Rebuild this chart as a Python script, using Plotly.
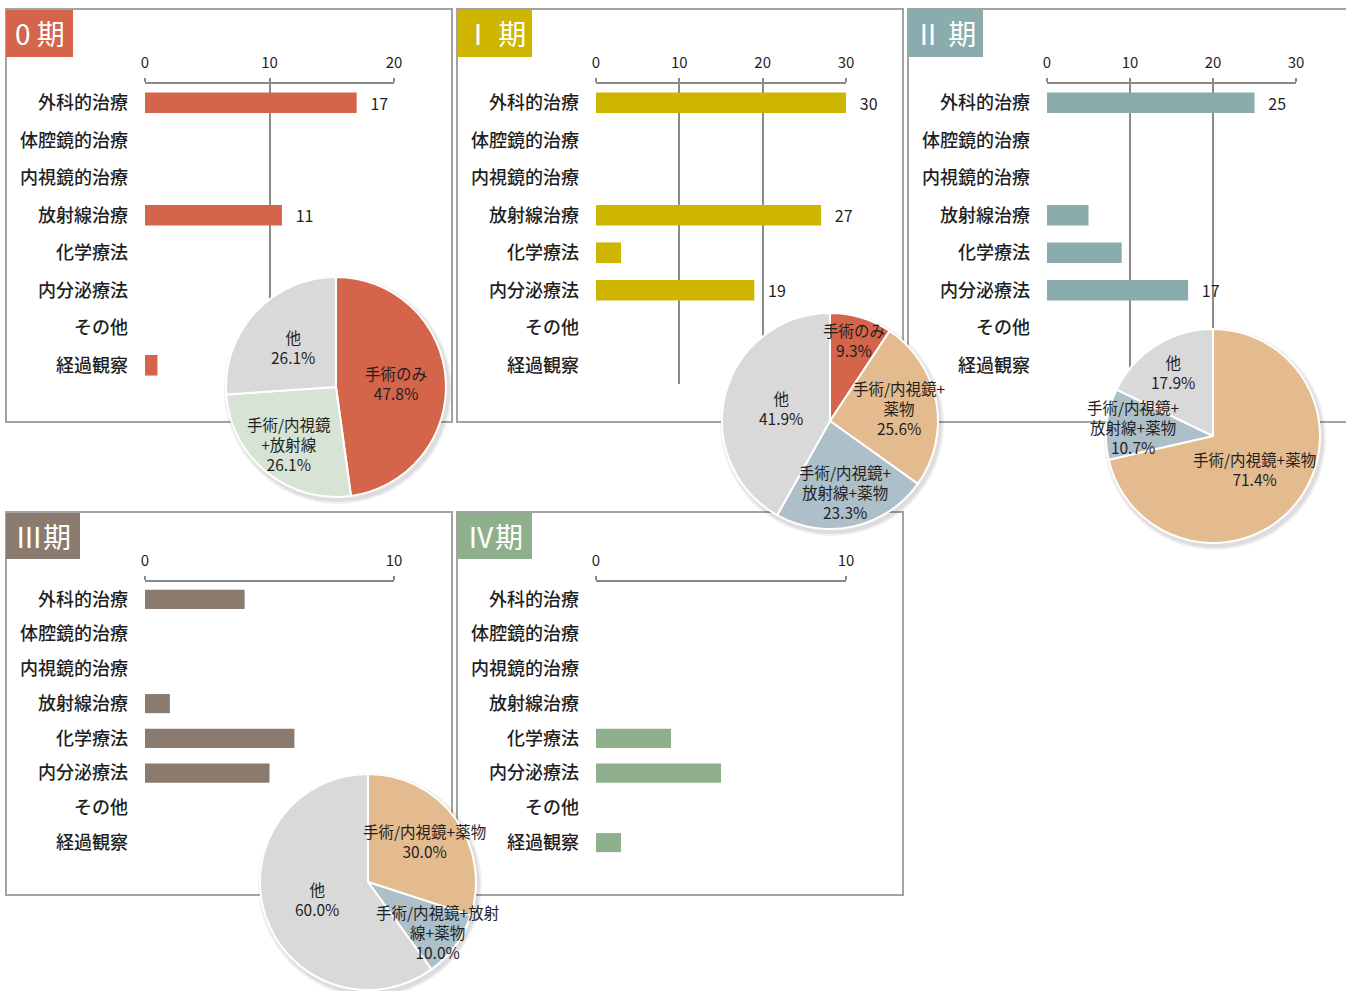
import math
import plotly.graph_objects as go

W, H = 1346, 991

categories = ["外科的治療", "体腔鏡的治療", "内視鏡的治療", "放射線治療",
              "化学療法", "内分泌療法", "その他", "経過観察"]

stage_names = ["0 期", "Ⅰ 期", "Ⅱ 期", "Ⅲ期", "Ⅳ期"]
stage0 = [17, 0, 0, 11, 0, 0, 0, 1]
stage1 = [30, 0, 0, 27, 3, 19, 0, 0]
stage2 = [25, 0, 0, 5, 9, 17, 0, 0]
stage3 = [4, 0, 0, 1, 6, 5, 0, 0]
stage4 = [0, 0, 0, 0, 3, 5, 0, 1]
axis_max = [20, 30, 30, 10, 10]

pie0_labels = ["手術のみ", "手術/内視鏡+放射線", "他"]
pie0_text = ["手術のみ", "手術/内視鏡<br>+放射線", "他"]
pie0_values = [11, 6, 6]
pie1_labels = ["手術のみ", "手術/内視鏡+薬物", "手術/内視鏡+放射線+薬物", "他"]
pie1_text = ["手術のみ", "手術/内視鏡+<br>薬物", "手術/内視鏡+<br>放射線+薬物", "他"]
pie1_values = [4, 11, 10, 18]
pie2_labels = ["手術/内視鏡+薬物", "手術/内視鏡+放射線+薬物", "他"]
pie2_text = ["手術/内視鏡+薬物", "手術/内視鏡+<br>放射線+薬物", "他"]
pie2_values = [20, 3, 5]
pie3_labels = ["手術/内視鏡+薬物", "手術/内視鏡+放射線+薬物", "他"]
pie3_text = ["手術/内視鏡+薬物", "手術/内視鏡+放射<br>線+薬物", "他"]
pie3_values = [3, 1, 6]

BAR_COLORS = ["#D4644A", "#CDB500", "#8BACAC", "#8B7A6E", "#8FB08C"]
PIE_COLORS = {"手術のみ": "#D4644A", "手術/内視鏡+放射線": "#D7E4D5",
              "手術/内視鏡+薬物": "#E3BB8E", "手術/内視鏡+放射線+薬物": "#ADBFC8",
              "他": "#D9D9D9"}
FONT = "Noto Sans CJK JP"
TEXT = "#1F1F1F"
GRID = "#8A8A8A"
BORDER = "#A3A3A3"

# panel boxes in pixels (x0, y0, x1, y1) and plot areas
panels = [(6, 9, 452, 422), (457, 9, 903, 422), (908, 9, 1349, 422),
          (6, 512, 452, 895), (457, 512, 903, 895)]
headers = [(6, 10, 73, 57), (457, 10, 532, 57), (908, 10, 983, 57),
           (6, 513, 80, 559), (457, 513, 532, 559)]
plot_areas = [(145, 84, 394, 384), (596, 84, 846, 384), (1047, 84, 1296, 384),
              (145, 582, 394, 860), (596, 582, 846, 860)]


def px(x):
    return x / W


def py(y):
    return 1 - y / H


fig = go.Figure()
layout = dict(width=W, height=H,
              margin=dict(l=0, r=0, t=0, b=0, pad=0, autoexpand=False),
              paper_bgcolor="white", plot_bgcolor="rgba(0,0,0,0)",
              showlegend=False, font=dict(family=FONT, color=TEXT),
              shapes=[], annotations=[])

stages = [stage0, stage1, stage2, stage3, stage4]
for i, vals in enumerate(stages):
    n = "" if i == 0 else str(i + 1)
    fig.add_trace(go.Bar(
        x=vals, y=categories, orientation="h", width=0.55,
        marker=dict(color=BAR_COLORS[i], line=dict(width=0)),
        text=[f"   {v}" if v >= 10 else "" for v in vals],
        textposition="outside", cliponaxis=False, constraintext="none",
        textfont=dict(size=16, color=TEXT, family=FONT),
        xaxis="x" + n, yaxis="y" + n, hoverinfo="x+y"))
    x0, y0, x1, y1 = plot_areas[i]
    layout["xaxis" + n] = dict(
        domain=[px(x0), px(x1)], range=[0, axis_max[i]], side="top",
        anchor="y" + n, dtick=10, showgrid=True, gridcolor=GRID, gridwidth=1.6,
        showline=True, linecolor=GRID, linewidth=1.6, zeroline=False,
        ticks="outside", ticklen=4, tickcolor=GRID, tickwidth=1.6,
        ticklabelstandoff=4, automargin=False,
        tickfont=dict(size=15, color=TEXT, family=FONT), fixedrange=True)
    layout["yaxis" + n] = dict(
        domain=[py(y1), py(y0)], anchor="x" + n, autorange="reversed",
        categoryorder="array", categoryarray=categories,
        showgrid=False, showline=False, ticks="", ticklabelstandoff=16,
        automargin=False,
        tickfont=dict(size=18, color=TEXT, family=FONT, weight=500),
        fixedrange=True)

    bx0, by0, bx1, by1 = panels[i]
    layout["shapes"].append(dict(type="rect", xref="paper", yref="paper",
                                 x0=px(bx0), x1=px(bx1), y0=py(by1), y1=py(by0),
                                 line=dict(color=BORDER, width=2), fillcolor="white",
                                 layer="below"))
    hx0, hy0, hx1, hy1 = headers[i]
    layout["shapes"].append(dict(type="rect", xref="paper", yref="paper",
                                 x0=px(hx0), x1=px(hx1), y0=py(hy1), y1=py(hy0),
                                 line=dict(width=0), fillcolor=BAR_COLORS[i],
                                 layer="below"))
    layout["annotations"].append(dict(
        x=px((hx0 + hx1) / 2), y=py((hy0 + hy1) / 2), xref="paper", yref="paper",
        text=stage_names[i], showarrow=False, xanchor="center", yanchor="middle",
        font=dict(size=28, color="white", family=FONT)))

# pies: center and radius in pixels, radial position of each slice label
pies = [(pie0_labels, pie0_text, pie0_values, (336, 387, 110), [0.55, 0.67, 0.53]),
        (pie1_labels, pie1_text, pie1_values, (830, 421, 108), [0.78, 0.65, 0.67, 0.47]),
        (pie2_labels, pie2_text, pie2_values, (1213, 436, 107), [0.5, 0.75, 0.71]),
        (pie3_labels, pie3_text, pie3_values, (368, 882, 108), [0.65, 0.79, 0.5])]

for labels, texts, values, (cx, cy, r), label_k in pies:
    # soft shadow
    for k, a in [(4, 0.06), (2, 0.08)]:
        layout["shapes"].append(dict(
            type="circle", xref="paper", yref="paper",
            x0=px(cx - r - k + 2), x1=px(cx + r + k + 2),
            y0=py(cy + r + k + 3), y1=py(cy - r - k + 3),
            line=dict(width=0), fillcolor=f"rgba(0,0,0,{a})", layer="below"))
    fig.add_trace(go.Pie(
        labels=labels, values=values, sort=False, direction="clockwise",
        rotation=0, textinfo="none", hole=0, automargin=False,
        marker=dict(colors=[PIE_COLORS[l] for l in labels],
                    line=dict(color="white", width=2)),
        domain=dict(x=[px(cx - r), px(cx + r)], y=[py(cy + r), py(cy - r)]),
        hoverinfo="label+percent"))
    total = sum(values)
    cum = 0
    for lab, txt, v, k in zip(labels, texts, values, label_k):
        mid = (cum + v / 2) / total * 2 * math.pi
        cum += v
        lx = cx + k * r * math.sin(mid)
        ly = cy - k * r * math.cos(mid)
        layout["annotations"].append(dict(
            x=px(lx), y=py(ly), xref="paper", yref="paper",
            text=f"{txt}<br>{v / total * 100:.1f}%", showarrow=False,
            xanchor="center", yanchor="middle", align="center",
            font=dict(size=15.5, color=TEXT, family=FONT)))

fig.update_layout(**layout)
fig.write_html("out.html", config={"displayModeBar": False},
               post_script="document.body.style.margin='0';")
